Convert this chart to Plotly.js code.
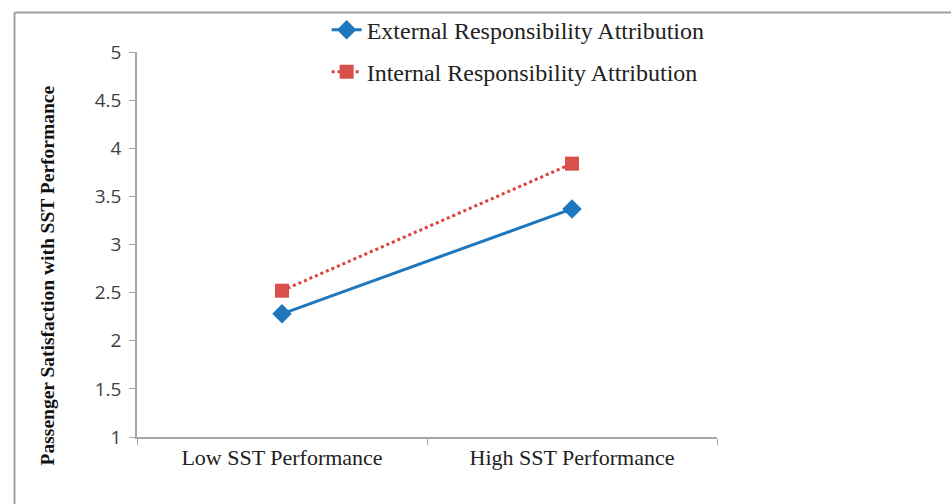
<!DOCTYPE html>
<html><head><meta charset="utf-8">
<script src="https://cdn.plot.ly/plotly-3.0.1.min.js"></script>
<style>html,body{margin:0;padding:0;background:#fff;}</style>
</head><body>
<div id="chart" style="width:951px;height:504px;"></div>
<script>
const categories = ["Low SST Performance", "High SST Performance"];
const externalVals = [2.28, 3.37];
const internalVals = [2.52, 3.84];
const seriesNames = ["External Responsibility Attribution", "Internal Responsibility Attribution"];
const yTicks = [1, 1.5, 2, 2.5, 3, 3.5, 4, 4.5, 5];
const yTitle = "Passenger Satisfaction with SST Performance";

const traces = [
  {x: categories, y: externalVals, name: seriesNames[0], type: "scatter", mode: "lines+markers",
   legendgroup: "a",
   line: {color: "#1f77bd", width: 3}, marker: {symbol: "diamond", size: 15, color: "#1f77bd"}},
  {x: categories, y: internalVals, name: seriesNames[1], type: "scatter", mode: "lines+markers",
   legendgroup: "b",
   line: {color: "#e0403d", width: 3, dash: "dot"}, marker: {symbol: "square", size: 14, color: "#d9504a"}}
];

const layout = {
  width: 951, height: 504,
  margin: {l: 137, r: 234, t: 52, b: 67, autoexpand: false},
  paper_bgcolor: "#fff", plot_bgcolor: "#fff",
  showlegend: true,
  legend: {x: 0.327, y: 0.985, xref: "paper", yref: "container", xanchor: "left", yanchor: "top",
    bgcolor: "rgba(0,0,0,0)",
    traceorder: "grouped", tracegroupgap: 8,
    font: {family: "Liberation Serif", size: 24, color: "#222"}},
  xaxis: {type: "category", range: [-0.5, 1.5], showgrid: false, zeroline: false,
    showline: true, linecolor: "#a6a6a6", linewidth: 1.5,
    ticks: "outside", tickson: "boundaries", ticklen: 6, tickcolor: "#a6a6a6",
    tickfont: {family: "Liberation Serif", size: 22, color: "#222"}},
  yaxis: {range: [1, 5], tickvals: yTicks, showgrid: false, zeroline: false,
    showline: true, linecolor: "#a6a6a6", linewidth: 1.5,
    ticks: "outside", ticklen: 6, tickcolor: "#a6a6a6", ticklabelstandoff: 4,
    tickfont: {family: "Open Sans", size: 19, color: "#404040"}},
  annotations: [
    {text: "<b>" + yTitle + "</b>", xref: "paper", yref: "paper", x: -0.155, y: 0.42,
     textangle: -90, showarrow: false, xanchor: "center", yanchor: "middle",
     font: {family: "Liberation Serif", size: 19.5, color: "#111"}}
  ],
  shapes: [
    {type: "line", xref: "paper", yref: "paper", x0: -0.2112, x1: 1.41, y0: 1.1026, y1: 1.1026,
     line: {color: "#a0a0a0", width: 2}},
    {type: "line", xref: "paper", yref: "paper", x0: -0.2112, x1: -0.2112, y0: -0.18, y1: 1.1026,
     line: {color: "#a0a0a0", width: 2}}
  ]
};

Plotly.newPlot("chart", traces, layout, {displayModeBar: false});
</script>
</body></html>
